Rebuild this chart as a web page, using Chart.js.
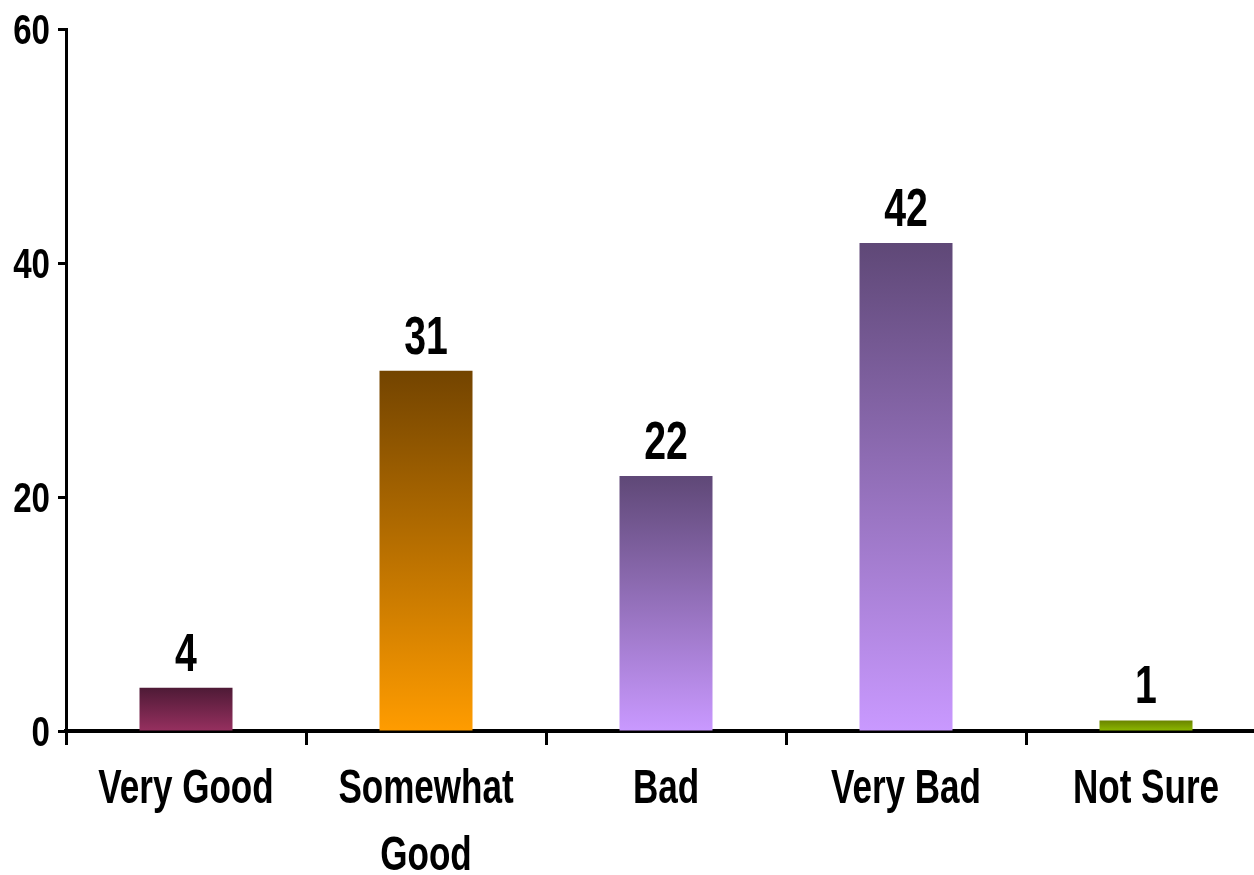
<!DOCTYPE html>
<html>
<head>
<meta charset="utf-8">
<script src="https://cdn.jsdelivr.net/npm/chart.js@4"></script>
<style>
html,body{margin:0;padding:0;background:#fff;overflow:hidden;}
#wrap{width:1270px;height:875px;}
</style>
</head>
<body>
<div id="wrap"><canvas id="c" width="1270" height="875"></canvas></div>
<script>
const categories = [["Very Good"], ["Somewhat", "Good"], ["Bad"], ["Very Bad"], ["Not Sure"]];
const values = [3.7, 30.8, 21.8, 41.7, 0.9];
const valueLabels = ["4", "31", "22", "42", "1"];
const yTicks = [0, 20, 40, 60];
const topColors = ["#4e1a36", "#734400", "#5f4877", "#5f4877", "#6a8400"];
const bottomColors = ["#96305f", "#ff9c00", "#c999ff", "#c999ff", "#8cb800"];

const FONT = "'Liberation Sans', Arial, sans-serif";

function narrowText(ctx, text, x, y, size, sx, align) {
  ctx.save();
  ctx.font = "bold " + size + "px " + FONT;
  ctx.textAlign = align;
  ctx.textBaseline = 'alphabetic';
  ctx.translate(x, y);
  ctx.scale(sx, 1);
  ctx.fillText(text, 0, 0);
  ctx.restore();
}

const textPlugin = {
  id: 'narrowText',
  afterDraw(chart) {
    const ctx = chart.ctx;
    ctx.save();
    ctx.fillStyle = '#000';
    // value labels
    const meta = chart.getDatasetMeta(0);
    meta.data.forEach((bar, i) => {
      narrowText(ctx, valueLabels[i], bar.x, bar.y - 17, 53, 0.74, 'center');
    });
    // x category labels
    const xs = chart.scales.x;
    categories.forEach((lines, i) => {
      const x = xs.getPixelForTick(i);
      lines.forEach((line, j) => {
        narrowText(ctx, line, x, 803 - 0 + j * 67, 48, 0.73, 'center');
      });
    });
    // y tick labels
    const ys = chart.scales.y;
    yTicks.forEach(v => {
      const y = ys.getPixelForValue(v);
      narrowText(ctx, String(v), 50, y + 15, 43, 0.77, 'right');
    });
    ctx.restore();
  }
};

new Chart(document.getElementById('c'), {
  type: 'bar',
  data: {
    labels: categories,
    datasets: [{
      data: values,
      backgroundColor(context) {
        const chart = context.chart;
        const i = context.dataIndex;
        if (!chart.chartArea || !chart.scales.y) return bottomColors[i];
        const y = chart.scales.y;
        const top = y.getPixelForValue(values[i]);
        const base = y.getPixelForValue(0);
        const g = chart.ctx.createLinearGradient(0, top, 0, base);
        g.addColorStop(0, topColors[i]);
        g.addColorStop(1, bottomColors[i]);
        return g;
      },
      borderWidth: 0,
      categoryPercentage: 1,
      barPercentage: 0.3875
    }]
  },
  options: {
    responsive: false,
    animation: false,
    layout: { padding: { top: 29, right: 4, left: 0, bottom: 0 } },
    plugins: { legend: { display: false }, tooltip: { enabled: false } },
    scales: {
      x: {
        grid: { offset: true, drawOnChartArea: false, tickLength: 14, tickWidth: 3, tickColor: '#000' },
        border: { color: '#000', width: 4 },
        ticks: {
          color: 'rgba(0,0,0,0)',
          font: { family: FONT, size: 30, weight: 'bold' },
          padding: 6,
          maxRotation: 0,
          autoSkip: false
        },
        afterFit(scale) { scale.height = 875 - 731; }
      },
      y: {
        min: 0, max: 60,
        afterBuildTicks(scale) { scale.ticks = yTicks.map(v => ({ value: v })); },
        grid: { drawOnChartArea: false, tickLength: 8, tickWidth: 3, tickColor: '#000' },
        border: { color: '#000', width: 3 },
        ticks: {
          color: 'rgba(0,0,0,0)',
          font: { family: FONT, size: 30, weight: 'bold' },
          padding: 6
        },
        afterFit(scale) { scale.width = 66; }
      }
    }
  },
  plugins: [textPlugin]
});
</script>
</body>
</html>
